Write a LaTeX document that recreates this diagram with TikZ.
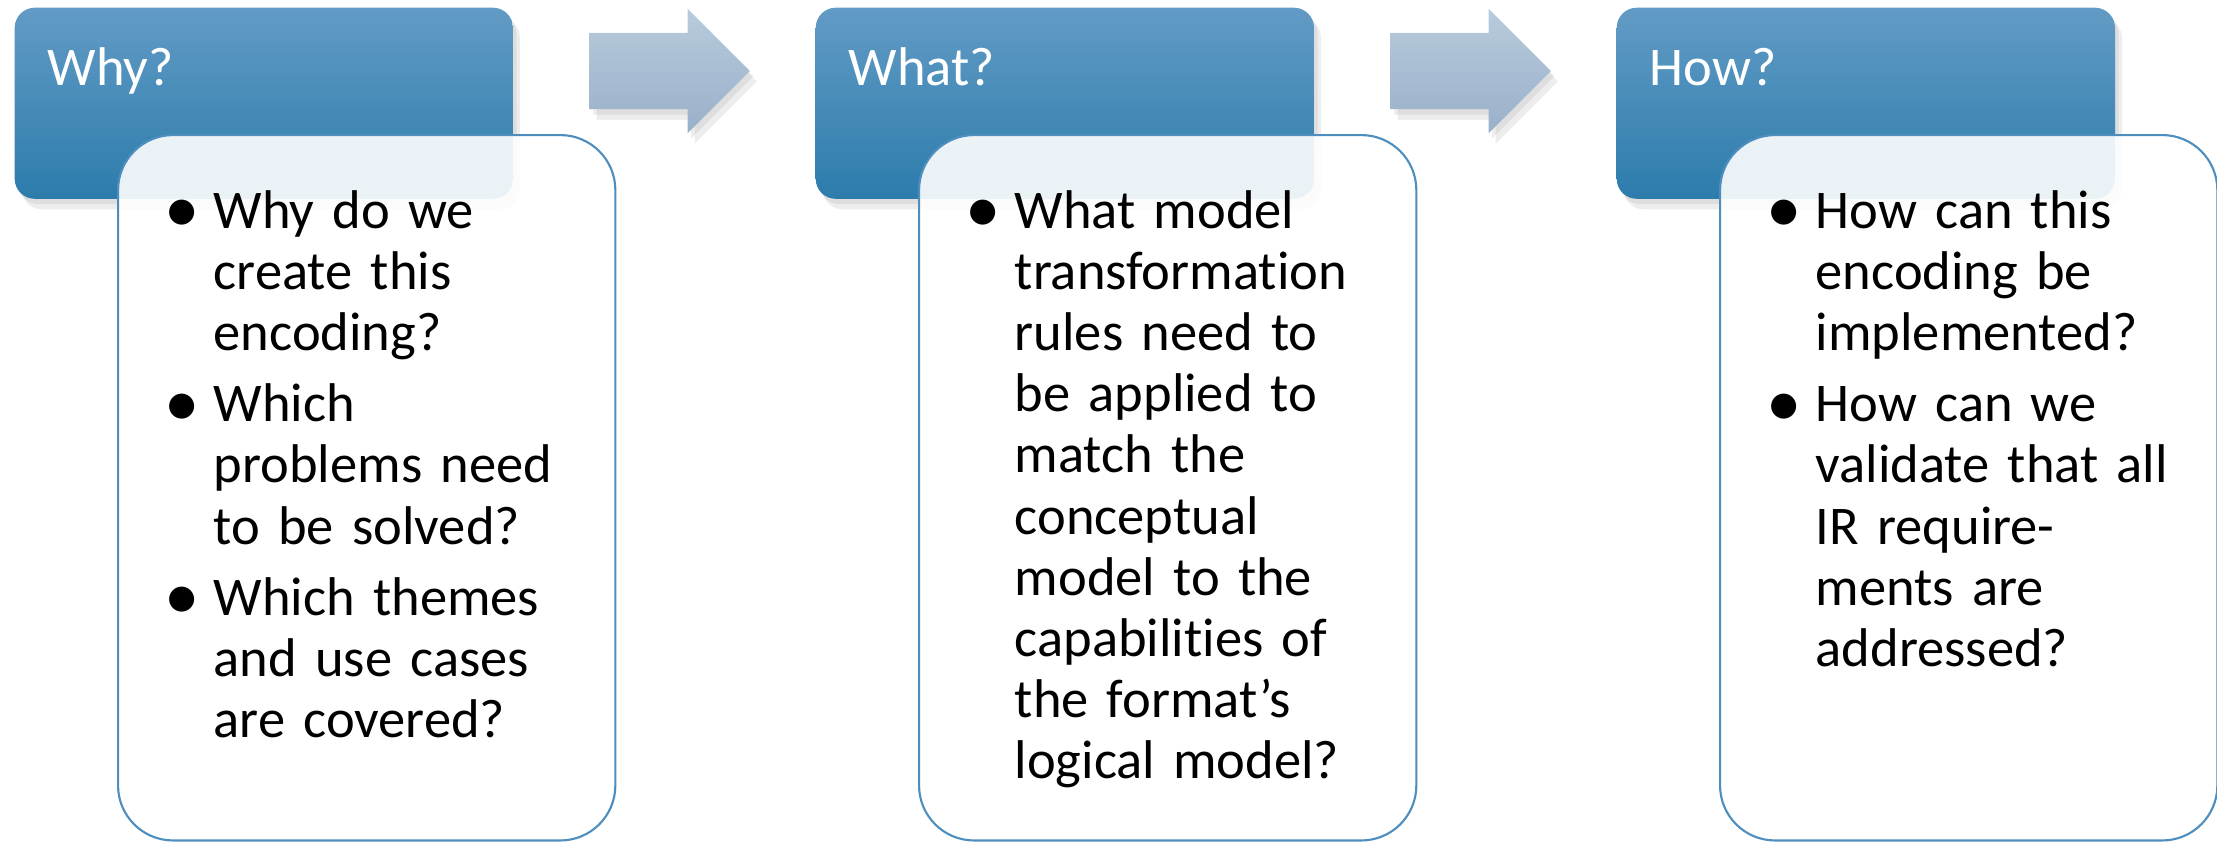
\documentclass[tikz,border=0pt]{standalone}
\usepackage{fontspec}
\setmainfont[Ligatures={TeX,NoCommon}]{Carlito}
\usetikzlibrary{positioning,shadows,shapes.arrows}

\definecolor{headtop}{RGB}{98,155,197}
\definecolor{headbot}{RGB}{44,124,172}
\definecolor{arrtop}{RGB}{185,203,221}
\definecolor{arrbot}{RGB}{152,176,201}
\definecolor{boxline}{RGB}{78,142,190}

% bullet column; \nl breaks a line inside a question
\newlength\bulw \setlength\bulw{0.49cm}
\newcommand\qbullet{\raisebox{-0.08em}{\scalebox{1.3}{\textbullet}}}
\newcommand\qitem[1]{\noindent\makebox[\bulw][l]{\qbullet}#1\par}
\newcommand\nl{\\\hspace*{\bulw}}
\newcommand\qgap{\vspace{2.85pt}}

\tikzset{
  soft shadow/.style={
    drop shadow={opacity=0.14, shadow xshift=1pt, shadow yshift=-1.5pt},
    drop shadow={opacity=0.14, shadow xshift=2pt, shadow yshift=-3pt}},
  head/.style={rectangle, rounded corners=0.2cm, minimum width=4.98cm, minimum height=1.91cm,
    anchor=north west, top color=headtop, bottom color=headbot, draw=none, soft shadow},
  headtext/.style={anchor=base west, inner sep=0pt, text=white, font=\fontsize{15.5}{18}\selectfont},
  qbox/.style={rectangle, rounded corners=0.55cm, minimum width=4.97cm, minimum height=7.05cm,
    anchor=north west, draw=boxline, line width=0.6pt, fill=white, fill opacity=0.9},
  qlist/.style={anchor=base west, inner sep=0pt, text width=4.3cm,
    font=\fontsize{15.5}{17.4}\selectfont},
  flow/.style={single arrow, single arrow head extend=0.24cm, minimum height=1.6cm,
    inner xsep=0pt, inner ysep=0.375cm, anchor=tail, top color=arrtop, bottom color=arrbot,
    draw=none, soft shadow},
}

\begin{document}
\begin{tikzpicture}[x=0.01cm,y=-0.01cm]
  \useasboundingbox (0,0) rectangle (2217,842);

  % column headers
  \node[head] (whyhead) at (14,7) {};
  \node[head] (whathead) at (815,7) {};
  \node[head] (howhead) at (1616,7) {};
  \node[headtext] (whytitle) at ([xshift=0.33cm,yshift=-0.78cm]whyhead.north west) {Why?};
  \node[headtext] (whattitle) at ([xshift=0.33cm,yshift=-0.78cm]whathead.north west) {What?};
  \node[headtext] (howtitle) at ([xshift=0.33cm,yshift=-0.78cm]howhead.north west) {How?};

  % block arrows between the headers
  \node[flow] (whyarrow) at (589,71) {};
  \node[flow] (whatarrow) at (1390,71) {};

  % question boxes
  \node[qbox] (whybox) at (117,134) {};
  \node[qbox] (whatbox) at (918,134) {};
  \node[qbox] (howbox) at (1719,134) {};

  \node[qlist] (whylist) at ([xshift=0.47cm,yshift=-0.94cm]whybox.north west) {%
    \qitem{Why do we\nl create this\nl encoding?}\qgap
    \qitem{Which\nl problems need\nl to be solved?}\qgap
    \qitem{Which themes\nl and use cases\nl are covered?}};
  \node[qlist] (whatlist) at ([xshift=0.47cm,yshift=-0.94cm]whatbox.north west) {%
    \qitem{What model\nl transformation\nl rules need to\nl be applied to\nl match the\nl
      conceptual\nl model to the\nl capabilities of\nl the format’s\nl logical model?}};
  \node[qlist] (howlist) at ([xshift=0.47cm,yshift=-0.94cm]howbox.north west) {%
    \qitem{How can this\nl encoding be\nl implemented?}\qgap
    \qitem{How can we\nl validate that all\nl IR require-\nl ments are\nl addressed?}};
\end{tikzpicture}
\end{document}
